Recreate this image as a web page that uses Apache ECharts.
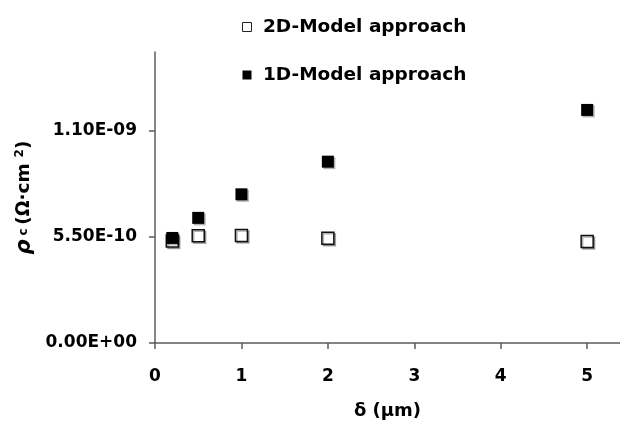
<!DOCTYPE html>
<html>
<head>
<meta charset="utf-8">
<script src="https://cdn.jsdelivr.net/npm/echarts@6/dist/echarts.min.js"></script>
<style>
  html, body { margin: 0; padding: 0; background: #fff; }
  #chart { width: 620px; height: 421px; }
</style>
</head>
<body>
<div id="chart"></div>
<script>
  // delta (µm)
  const deltas = [0.2, 0.5, 1, 2, 5];
  // rho_c (Ohm·cm^2)
  const model2D = [5.28e-10, 5.56e-10, 5.57e-10, 5.42e-10, 5.25e-10];
  const model1D = [5.44e-10, 6.48e-10, 7.70e-10, 9.39e-10, 1.207e-9];
  const xTicks = [0, 1, 2, 3, 4, 5];
  const yTicks = [0, 5.5e-10, 1.1e-9];
  const seriesNames = ['2D-Model approach', '1D-Model approach'];

  const FONT = 'DejaVu Sans';
  const AXIS = '#5c5c5c';

  const fmtY = (v) => {
    const [m, e] = v.toExponential(2).toUpperCase().split('E');
    const exp = parseInt(e, 10);
    const sign = exp < 0 ? '-' : '+';
    return m + 'E' + sign + String(Math.abs(exp)).padStart(2, '0');
  };

  const chart = echarts.init(document.getElementById('chart'), null, { renderer: 'canvas' });

  chart.setOption({
    animation: false,
    textStyle: { fontFamily: FONT },
    grid: { left: 155, right: 0, top: 52, bottom: 78, outerBoundsMode: 'none', containLabel: false },
    legend: {
      orient: 'vertical',
      left: 237,
      top: 12,
      itemWidth: 9,
      itemHeight: 9,
      itemGap: 28,
      formatter: (n) => ' ' + n,
      textStyle: { fontFamily: FONT, fontWeight: 'bold', fontSize: 18.5, color: '#000', lineHeight: 20 },
      data: [
        { name: seriesNames[0], icon: 'rect', itemStyle: { color: '#fff', borderColor: '#222', borderWidth: 1, opacity: 1 } },
        { name: seriesNames[1], icon: 'rect', itemStyle: { color: '#000', borderWidth: 0, opacity: 1 } },
      ],
    },
    xAxis: {
      type: 'value',
      min: 0,
      max: 5.38,
      interval: 1,
      name: 'δ (µm)',
      nameLocation: 'middle',
      nameGap: 59,
      nameTextStyle: { fontFamily: FONT, fontWeight: 'bold', fontSize: 18, color: '#000' },
      axisLine: { onZero: false, lineStyle: { color: AXIS, width: 1.5 } },
      axisTick: { show: true, length: 6, customValues: xTicks, lineStyle: { color: AXIS, width: 1.5 } },
      axisLabel: {
        customValues: xTicks,
        margin: 25,
        fontFamily: FONT, fontWeight: 'bold', fontSize: 17, color: '#000',
      },
      splitLine: { show: false },
    },
    yAxis: {
      type: 'value',
      min: 0,
      max: 1.507e-9,
      interval: 5.5e-10,
      name: '{rho|ρ} {sub|c} {n|(Ω·cm} {sup|2}{n|)}',
      nameLocation: 'middle',
      nameRotate: 90,
      nameGap: 116,
      nameTextStyle: {
        color: '#000',
        rich: {
          rho: { fontFamily: FONT, fontStyle: 'italic', fontWeight: 'bold', fontSize: 21, color: '#000' },
          sub: { fontFamily: FONT, fontWeight: 'bold', fontSize: 12, color: '#000' },
          n: { fontFamily: FONT, fontWeight: 'bold', fontSize: 18.5, color: '#000' },
          sup: { fontFamily: FONT, fontWeight: 'bold', fontSize: 12, color: '#000', verticalAlign: 'top', padding: [0, 0, 0, 2] },
        },
      },
      axisLine: { show: true, lineStyle: { color: AXIS, width: 1.5 } },
      axisTick: { show: true, length: 6, customValues: yTicks, lineStyle: { color: AXIS, width: 1.5 } },
      axisLabel: {
        customValues: yTicks,
        margin: 18,
        formatter: (v) => fmtY(v),
        fontFamily: FONT, fontWeight: 'bold', fontSize: 17, color: '#000',
      },
      splitLine: { show: false },
    },
    series: [
      {
        name: seriesNames[0],
        type: 'scatter',
        symbol: 'rect',
        symbolSize: 12,
        data: deltas.map((d, i) => [d, model2D[i]]),
        itemStyle: {
          opacity: 1,
          color: '#fff', borderColor: '#111', borderWidth: 1.5,
          shadowColor: 'rgba(0,0,0,0.3)', shadowOffsetX: 1.5, shadowOffsetY: 1.5, shadowBlur: 0,
        },
        z: 2,
      },
      {
        name: seriesNames[1],
        type: 'scatter',
        symbol: 'rect',
        symbolSize: 12,
        data: deltas.map((d, i) => [d, model1D[i]]),
        itemStyle: {
          opacity: 1,
          color: '#000', borderWidth: 0,
          shadowColor: 'rgba(0,0,0,0.3)', shadowOffsetX: 1.5, shadowOffsetY: 1.5, shadowBlur: 0,
        },
        z: 3,
      },
    ],
  });
</script>
</body>
</html>
